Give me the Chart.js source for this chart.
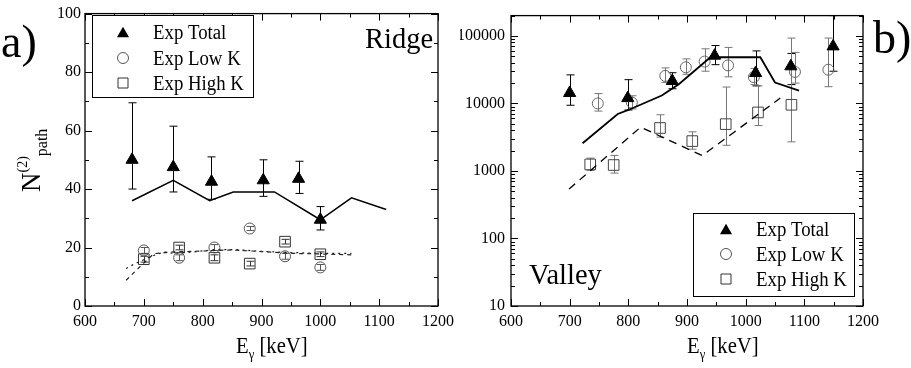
<!DOCTYPE html>
<html>
<head>
<meta charset="utf-8">
<script src="https://cdn.jsdelivr.net/npm/chart.js@4.4.1/dist/chart.umd.min.js"></script>
<style>
  html, body { margin: 0; padding: 0; background: #fff; }
  #wrap { position: relative; width: 911px; height: 368px; overflow: hidden; }
  canvas { position: absolute; top: 0; }
  #cRidge { left: 0; }
  #cValley { left: 460px; }
</style>
</head>
<body>
<div id="wrap">
  <canvas id="cRidge" width="460" height="368"></canvas>
  <canvas id="cValley" width="451" height="368"></canvas>
</div>
<script>
// ---- panel a) Ridge : experimental points ----
const ridgeTotalE  = [680, 750, 815, 903, 963, 1000];
const ridgeTotal   = [50, 47.5, 42.5, 43, 43.5, 29.5];
const ridgeTotalLo = [40, 39, 36.5, 37.5, 38.5, 26];
const ridgeTotalHi = [69.5, 61.5, 51, 50, 49.5, 34];

const ridgeKE      = [700, 760, 820, 880, 940, 1000];
const ridgeLowK    = [19, 16.5, 20, 26.5, 17, 13.2];
const ridgeLowKLo  = [18, 15.5, 19, 25.8, 16, 12.2];
const ridgeLowKHi  = [20, 17.5, 21, 27.2, 18, 14.2];
const ridgeHighK   = [16, 20, 16.5, 14.5, 22, 17.7];
const ridgeHighKLo = [15, 19.2, 15.5, 13.7, 21.2, 16.9];
const ridgeHighKHi = [17, 20.8, 17.5, 15.3, 22.8, 18.5];

// ---- panel a) Ridge : calculations ----
const ridgeCalcE  = [680, 750, 812, 852, 922, 1000, 1053, 1112];
const ridgeCalc   = [36, 43, 36, 39, 39, 29.5, 37, 33];
const ridgeLowCalcE  = [670, 685, 717, 735, 750, 785, 820, 855, 900, 950, 1000, 1053];
const ridgeLowCalc   = [12.8, 14.5, 17.3, 18.5, 18, 18.5, 19.3, 19.3, 18.7, 18.3, 18, 18];
const ridgeHighCalcE = [670, 690, 717, 750, 800, 850, 900, 950, 1000, 1053];
const ridgeHighCalc  = [8.8, 12.8, 17.9, 18.5, 18.8, 19.2, 18.6, 18, 17.8, 17.5];

// ---- panel b) Valley : experimental points ----
const valleyTotalE  = [700, 799, 875, 947, 1017, 1077, 1149];
const valleyTotal   = [14300, 12000, 21500, 51000, 28200, 35500, 70000];
const valleyTotalLo = [9400, 8000, 16500, 37500, 18200, 19000, 30000];
const valleyTotalHi = [26500, 22500, 28500, 72000, 60000, 55000, 200000];

const valleyLowE    = [748, 806, 863, 898, 930, 970, 1014, 1084, 1141];
const valleyLowK    = [10000, 10300, 25600, 34300, 41700, 36600, 24600, 29300, 31600];
const valleyLowKLo  = [7700, 8300, 20400, 27000, 30000, 24800, 19000, 20000, 17700];
const valleyLowKHi  = [14000, 13000, 33600, 45700, 64500, 67600, 33000, 57000, 93000];

const valleyHighE   = [735, 775, 854, 909, 966, 1021, 1078];
const valleyHighK   = [1250, 1225, 4330, 2770, 4940, 7360, 9560];
const valleyHighKLo = [1020, 930, 3170, 2100, 2400, 4700, 2700];
const valleyHighKHi = [1550, 1700, 6800, 3800, 17500, 18200, 93000];

// ---- panel b) Valley : calculations ----
const valleyCalcE     = [722, 782, 799, 857, 886, 940, 1025, 1050, 1091];
const valleyCalc      = [2570, 6970, 7940, 13100, 19300, 48300, 48300, 20400, 15500];
const valleyHighCalcE = [699, 821, 926, 1059];
const valleyHighCalc  = [540, 4450, 1690, 12000];

// tick labels
const xTicks = [600, 700, 800, 900, 1000, 1100, 1200];
const ridgeYTicks = [0, 20, 40, 60, 80, 100];
const valleyYTicks = [10, 100, 1000, 10000, 100000];

const FONT = 'Liberation Serif';
const pts = (xs, ys) => xs.map((x, i) => ({ x, y: ys[i] }));

// write a text with a slight horizontal squeeze, like the original figure
function drawText(ctx, str, x, y, size, sx) {
  ctx.save();
  ctx.font = size + 'px "' + FONT + '"';
  ctx.translate(x, y);
  ctx.scale(sx || 1, 1);
  ctx.textBaseline = 'alphabetic';
  ctx.fillStyle = '#000';
  ctx.fillText(str, 0, 0);
  const w = ctx.measureText(str).width * (sx || 1);
  ctx.restore();
  return w;
}

function drawMarker(ctx, style, x, y) {
  ctx.save();
  ctx.beginPath();
  if (style === 'triangle') {
    const r = 7, yc = y + r / 4;
    ctx.moveTo(x, yc - r);
    ctx.lineTo(x + r * 0.866, yc + r / 2);
    ctx.lineTo(x - r * 0.866, yc + r / 2);
    ctx.closePath();
    ctx.fillStyle = '#000';
    ctx.fill();
  } else if (style === 'circle') {
    ctx.arc(x, y, 5.5, 0, Math.PI * 2);
    ctx.strokeStyle = '#555'; ctx.lineWidth = 1;
    ctx.stroke();
  } else {
    ctx.rect(x - 5, y - 5, 10, 10);
    ctx.strokeStyle = '#333'; ctx.lineWidth = 1;
    ctx.stroke();
  }
  ctx.restore();
}

// vertical error bars with caps, clipped to the plot area
const errorBars = {
  id: 'errorBars',
  beforeDatasetsDraw(chart) {
    const { ctx, chartArea: a, scales: { x, y } } = chart;
    ctx.save();
    ctx.beginPath();
    ctx.rect(a.left, a.top, a.right - a.left, a.bottom - a.top);
    ctx.clip();
    chart.data.datasets.forEach((ds) => {
      if (!ds.errLo) return;
      ctx.strokeStyle = ds.errColor;
      ctx.lineWidth = 1;
      ds.data.forEach((p, i) => {
        const px = Math.round(x.getPixelForValue(p.x)) + 0.5;
        const y1 = y.getPixelForValue(ds.errLo[i]);
        const y2 = y.getPixelForValue(ds.errHi[i]);
        ctx.beginPath();
        ctx.moveTo(px, y1); ctx.lineTo(px, y2);
        ctx.moveTo(px - 4, y1); ctx.lineTo(px + 4, y1);
        ctx.moveTo(px - 4, y2); ctx.lineTo(px + 4, y2);
        ctx.stroke();
      });
    });
    ctx.restore();
  }
};

// box frame with inward ticks on all four sides
const frameTicks = {
  id: 'frameTicks',
  afterDatasetsDraw(chart, args, opts) {
    const { ctx, chartArea: a, scales: { x, y } } = chart;
    ctx.save();
    ctx.strokeStyle = '#000';
    ctx.lineWidth = 1.3;
    ctx.strokeRect(a.left, a.top, a.right - a.left, a.bottom - a.top);
    ctx.lineWidth = 1;
    ctx.beginPath();
    for (let v = x.min; v <= x.max; v += 50) {
      const px = Math.round(x.getPixelForValue(v)) + 0.5;
      const len = v % 100 === 0 ? 7 : 4;
      ctx.moveTo(px, a.bottom); ctx.lineTo(px, a.bottom - len);
      ctx.moveTo(px, a.top); ctx.lineTo(px, a.top + len);
    }
    const yt = [];
    if (opts.log) {
      for (let d = 10; d < y.max; d *= 10) {
        for (let m = 1; m <= 9; m++) if (m * d <= y.max) yt.push([m * d, m === 1 ? 7 : 4]);
      }
    } else {
      for (let v = y.min; v <= y.max; v += 10) yt.push([v, v % 20 === 0 ? 7 : 4]);
    }
    yt.forEach(([v, len]) => {
      const py = Math.round(y.getPixelForValue(v)) + 0.5;
      ctx.moveTo(a.left, py); ctx.lineTo(a.left + len, py);
      ctx.moveTo(a.right, py); ctx.lineTo(a.right - len, py);
    });
    ctx.stroke();
    ctx.restore();
  }
};

// legend box, panel letters, titles and axis captions
const annotations = {
  id: 'annotations',
  afterDraw(chart, args, opts) {
    const ctx = chart.ctx;
    const lg = opts.legend;
    ctx.save();
    ctx.fillStyle = '#fff';
    ctx.fillRect(lg.x, lg.y, lg.w, lg.h);
    ctx.strokeStyle = '#000'; ctx.lineWidth = 1;
    ctx.strokeRect(lg.x + 0.5, lg.y + 0.5, lg.w, lg.h);
    ctx.restore();
    chart.data.datasets.filter((ds) => ds.inLegend).forEach((ds, i) => {
      const ry = lg.rows[i];
      drawMarker(ctx, ds.pointStyle, lg.symX, ry);
      drawText(ctx, ds.label, lg.textX, ry + 7, 20, 0.94);
    });
    drawText(ctx, opts.letter.text, opts.letter.x, opts.letter.y, 46, 1);
    drawText(ctx, opts.region.text, opts.region.x, opts.region.y, 30, 0.95);
    // E_gamma [keV]
    const xt = opts.xTitle;
    let cx = xt.x;
    cx += drawText(ctx, 'E', cx, xt.y, 23, 0.9);
    cx += drawText(ctx, '\u03b3', cx, xt.y + 6, 14, 0.9);
    drawText(ctx, ' [keV]', cx, xt.y, 23, 0.9);
    if (opts.yTitle) {
      ctx.save();
      ctx.translate(opts.yTitle.x, opts.yTitle.y);
      ctx.rotate(-Math.PI / 2);
      let tx = 0;
      tx += drawText(ctx, 'N', tx, 0, 27, 1);
      tx += drawText(ctx, '(2)', tx, -13, 14, 1);
      drawText(ctx, 'path', tx, 7, 16, 1);
      ctx.restore();
    }
  }
};

const tickFont = { family: FONT, size: 16 };

function markerSet(label, style, xs, ys, lo, hi, color, fill, radius, errColor) {
  return {
    label, inLegend: true, data: pts(xs, ys), showLine: false,
    pointStyle: style, pointRadius: radius, pointHoverRadius: radius,
    pointBorderColor: color, pointBackgroundColor: fill, pointBorderWidth: 1,
    errLo: lo, errHi: hi, errColor
  };
}
function lineSet(xs, ys, color, width, dash) {
  return {
    label: '', data: pts(xs, ys), showLine: true, pointRadius: 0,
    borderColor: color, borderWidth: width, borderDash: dash, fill: false
  };
}

function makePanel(id, datasets, yScale, yWidth, pad, opts) {
  return new Chart(document.getElementById(id), {
    type: 'scatter',
    data: { datasets },
    options: {
      responsive: false, animation: false, events: [],
      layout: { padding: pad },
      plugins: { legend: { display: false }, tooltip: { enabled: false },
                 frameTicks: { log: yScale.type === 'logarithmic' }, annotations: opts },
      scales: {
        x: {
          type: 'linear', min: 600, max: 1200,
          afterBuildTicks: (s) => { s.ticks = xTicks.map((v) => ({ value: v })); },
          afterFit: (s) => { s.height = 62; },
          grid: { display: false, drawTicks: false }, border: { display: false },
          ticks: { font: tickFont, color: '#000', padding: 6, maxRotation: 0, autoSkip: false,
                   callback: (v) => String(v) }
        },
        y: Object.assign({
          afterFit: (s) => { s.width = yWidth; },
          grid: { display: false, drawTicks: false }, border: { display: false }
        }, yScale)
      }
    },
    plugins: [errorBars, frameTicks, annotations]
  });
}

// ---------------- panel a) Ridge ----------------
makePanel('cRidge', [
  lineSet(ridgeCalcE, ridgeCalc, '#000', 1.5, []),
  lineSet(ridgeLowCalcE, ridgeLowCalc, '#222', 1.2, [2, 4]),
  lineSet(ridgeHighCalcE, ridgeHighCalc, '#222', 1.2, [4, 4]),
  markerSet('Exp Total', 'triangle', ridgeTotalE, ridgeTotal, ridgeTotalLo, ridgeTotalHi, '#000', '#000', 7, '#000'),
  markerSet('Exp Low K', 'circle', ridgeKE, ridgeLowK, ridgeLowKLo, ridgeLowKHi, '#555', 'rgba(0,0,0,0)', 5.5, '#555'),
  markerSet('Exp High K', 'rect', ridgeKE, ridgeHighK, ridgeHighKLo, ridgeHighKHi, '#333', 'rgba(0,0,0,0)', 7.5, '#333')
], {
  type: 'linear', min: 0, max: 100,
  afterBuildTicks: (s) => { s.ticks = ridgeYTicks.map((v) => ({ value: v })); },
  ticks: { font: tickFont, color: '#000', padding: 4, callback: (v) => String(v) }
}, 85, { left: 0, right: 17, top: 12, bottom: 0 }, {
  legend: { x: 92, y: 15, w: 161, h: 82, symX: 123, textX: 153, rows: [32, 58, 83] },
  letter: { text: 'a)', x: 1, y: 57 },
  region: { text: 'Ridge', x: 365, y: 48 },
  xTitle: { x: 236, y: 353 },
  yTitle: { x: 40, y: 192 }
});

// ---------------- panel b) Valley ----------------
makePanel('cValley', [
  lineSet(valleyCalcE, valleyCalc, '#000', 1.8, []),
  lineSet(valleyHighCalcE, valleyHighCalc, '#000', 1.3, [8, 6]),
  markerSet('Exp Total', 'triangle', valleyTotalE, valleyTotal, valleyTotalLo, valleyTotalHi, '#000', '#000', 7, '#000'),
  markerSet('Exp Low K', 'circle', valleyLowE, valleyLowK, valleyLowKLo, valleyLowKHi, '#666', 'rgba(0,0,0,0)', 5.5, '#777'),
  markerSet('Exp High K', 'rect', valleyHighE, valleyHighK, valleyHighKLo, valleyHighKHi, '#444', 'rgba(0,0,0,0)', 7.5, '#777')
], {
  type: 'logarithmic', min: 10, max: 200000,
  afterBuildTicks: (s) => { s.ticks = valleyYTicks.map((v) => ({ value: v })); },
  ticks: { font: tickFont, color: '#000', padding: 6, autoSkip: false, callback: (v) => String(v) }
}, 51, { left: 0, right: 48, top: 9, bottom: 0 }, {
  legend: { x: 233, y: 213, w: 161, h: 83, symX: 266, textX: 296, rows: [229, 254, 279] },
  letter: { text: 'b)', x: 413, y: 53 },
  region: { text: 'Valley', x: 69, y: 284 },
  xTitle: { x: 227, y: 353 }
});
</script>
</body>
</html>
